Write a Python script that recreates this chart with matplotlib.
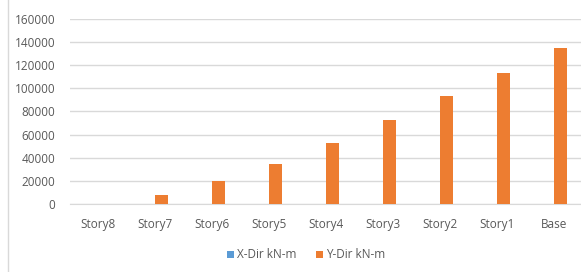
import matplotlib.pyplot as plt
import numpy as np
from matplotlib.lines import Line2D

# Storey moments
stories = ['Story8', 'Story7', 'Story6', 'Story5', 'Story4',
           'Story3', 'Story2', 'Story1', 'Base']
x_dir = [0, 0, 0, 0, 0, 0, 0, 0, 0]
y_dir = [0, 8000, 20000, 35000, 53000, 73000, 93000, 113500, 135000]

plt.rcParams['font.family'] = ['Open Sans', 'DejaVu Sans']
grey = '#595959'

fig = plt.figure(figsize=(5.81, 2.72), dpi=100)
ax = fig.add_axes([69.5 / 581, 68 / 272, 513 / 581, 185 / 272])

pos = np.arange(len(stories))
w = 0.22
ax.bar(pos - w / 2, x_dir, width=w, color='#5B9BD5', label='X-Dir kN-m', zorder=3)
ax.bar(pos + w / 2, y_dir, width=w, color='#ED7D31', label='Y-Dir kN-m', zorder=3)

ax.set_xlim(-0.5, len(stories) - 0.5)
ax.set_ylim(0, 160000)
ax.set_yticks(range(0, 160001, 20000))
ax.set_xticks(pos)
ax.set_xticklabels(stories)
ax.grid(axis='y', color='#D9D9D9', linewidth=1, zorder=0)
for s in ['top', 'right', 'left']:
    ax.spines[s].set_visible(False)
ax.spines['bottom'].set_color('#D9D9D9')
ax.tick_params(axis='both', length=0, colors=grey, labelsize=8.5)
ax.tick_params(axis='y', pad=10)
ax.tick_params(axis='x', pad=10)

fig.legend(loc='center', bbox_to_anchor=(306 / 581, 1 - 255 / 272), ncol=2,
           frameon=False, fontsize=8.5, labelcolor=grey, handlelength=0.6,
           handleheight=0.6, handletextpad=0.3, columnspacing=1.6)

# chart frame edge on the left
fig.add_artist(Line2D([8 / 581, 8 / 581], [0, 1], color='#D9D9D9', linewidth=1))

fig.savefig('out.png', dpi=100)
